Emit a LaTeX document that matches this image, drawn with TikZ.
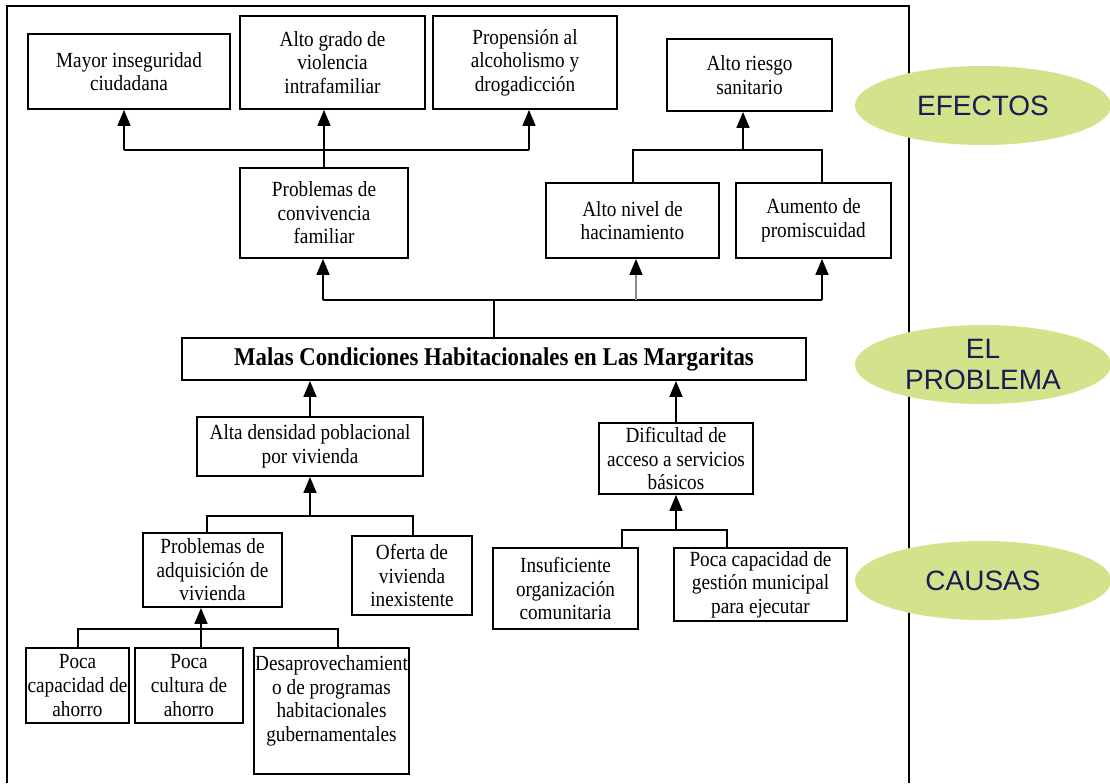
\documentclass[tikz,border=0pt]{standalone}
\usepackage{fontspec}
\setmainfont{Liberation Serif}[FakeStretch=0.89]
\newfontfamily\tagfont{Liberation Sans}
\usetikzlibrary{arrows.meta,shapes.geometric}
\definecolor{tagfill}{RGB}{210,227,140}
\definecolor{tagtext}{RGB}{24,30,82}

\begin{document}
\begin{tikzpicture}[x=0.5pt,y=-0.5pt,
  box/.style={draw, line width=0.9pt, align=center, inner sep=0pt,
    font=\fontsize{10.8}{11.8}\selectfont},
  link/.style={line width=0.8pt},
  arr/.style={link, -{Triangle[width=6.5pt,length=8pt,black]}},
  tag/.style={ellipse, fill=tagfill, minimum width=128pt, minimum height=39.5pt,
    inner sep=0pt, align=center, text=tagtext,
    font=\tagfont\fontsize{14}{15.5}\selectfont}
]
\useasboundingbox (0,0) rectangle (1110,783);

% page frame
\draw[line width=1pt] (7,783) -- (7,6) -- (909,6) -- (909,783);

% effects
\node[box, minimum width=101pt, minimum height=37.5pt] (mi) at (129,71.5) {Mayor inseguridad\\ciudadana};
\node[box, minimum width=92.5pt, minimum height=46.5pt] (ag) at (332.5,62.5) {Alto grado de\\violencia\\intrafamiliar};
\node[box, minimum width=92pt, minimum height=46.5pt] (pa) at (525,62.5) {Propensión al\\alcoholismo y\\drogadicción};
\node[box, minimum width=82.5pt, minimum height=36pt] (ar) at (749.5,75) {Alto riesgo\\sanitario};
\node[box, minimum width=84pt, minimum height=45pt] (pc) at (324,213) {Problemas de\\convivencia\\familiar};
\node[box, minimum width=86.5pt, minimum height=37.5pt] (an) at (632.5,220.5) {Alto nivel de\\hacinamiento};
\node[box, minimum width=77.5pt, minimum height=37.5pt] (ap) at (813.5,220.5) {Aumento de\\promiscuidad};

% central problem
\node[box, minimum width=312pt, minimum height=21pt,
  font=\bfseries\fontsize{12.8}{14}\selectfont] (mc) at (494,359)
  {Malas Condiciones Habitacionales en Las Margaritas};

% causes
\node[box, minimum width=113pt, minimum height=29.5pt] (ad) at (310,446.5) {Alta densidad poblacional\\por vivienda};
\node[box, minimum width=77pt, minimum height=35.5pt] (da) at (676,458.5) {Dificultad de\\acceso a servicios\\básicos};
\node[box, minimum width=69.5pt, minimum height=37pt] (pv) at (212.5,570) {Problemas de\\adquisición de\\vivienda};
\node[box, minimum width=60pt, minimum height=39.5pt] (ov) at (412,575.5) {Oferta de\\vivienda\\inexistente};
\node[box, minimum width=51.5pt, minimum height=37.5pt] (pca) at (77.5,685.5) {Poca\\capacidad de\\ahorro};
\node[box, minimum width=54pt, minimum height=37.5pt] (pcu) at (189,685.5) {Poca\\cultura de\\ahorro};
\node[box, minimum width=77.5pt, minimum height=63pt] (dp) at (331.5,711) {Desaprovechamient\\o de programas\\habitacionales\\gubernamentales\\[-3pt]\strut};
\node[box, minimum width=72.5pt, minimum height=40.5pt] (io) at (565.5,588.5) {Insuficiente\\organización\\comunitaria};
\node[box, minimum width=86.5pt, minimum height=36.5pt] (pg) at (760.5,584.5) {Poca capacidad de\\gestión municipal\\para ejecutar};

% side labels
\node[tag] (tE) at (983,105.5) {EFECTOS};
\node[tag] (tP) at (983,364.5) {EL\\PROBLEMA};
\node[tag] (tC) at (983,580.5) {CAUSAS};

% effect connectors
\coordinate (eL) at (124,150);
\coordinate (eR) at (529,150);
\draw[arr] (pc.north) -- (pc.north |- ag.south);
\draw[link] (eL) -- (eR);
\draw[arr] (eL) -- (eL |- mi.south);
\draw[arr] (eR) -- (eR |- pa.south);

\coordinate (hL) at (633,150);
\coordinate (hR) at (822,150);
\coordinate (hM) at (743,150);
\draw[link] (hL |- an.north) -- (hL) -- (hR) -- (hR |- ap.north);
\draw[arr] (hM) -- (hM |- ar.south);

% problem to effects
\coordinate (pm) at (494,300);
\coordinate (pL) at (323,300);
\coordinate (pR) at (822,300);
\coordinate (pA) at (636,300);
\draw[link] (mc.north) -- (pm);
\draw[link] (pL) -- (pR);
\draw[arr] (pL) -- (pL |- pc.south);
\draw[arr, draw=black!45] (pA) -- (pA |- an.south);
\draw[arr] (pR) -- (pR |- ap.south);

% causes to problem
\draw[arr] (ad.north) -- (ad.north |- mc.south);
\draw[arr] (da.north) -- (da.north |- mc.south);

\coordinate (aL) at (207,516);
\coordinate (aR) at (413,516);
\coordinate (aM) at (310,516);
\draw[link] (aL |- pv.north) -- (aL) -- (aR) -- (aR |- ov.north);
\draw[arr] (aM) -- (aM |- ad.south);

\coordinate (bL) at (78,629);
\coordinate (bR) at (338,629);
\coordinate (bM) at (201,629);
\draw[link] (bL |- pca.north) -- (bL) -- (bR) -- (bR |- dp.north);
\draw[arr] (bM |- pcu.north) -- (bM |- pv.south);

\coordinate (dL) at (622,530);
\coordinate (dR) at (727,530);
\coordinate (dM) at (676,530);
\draw[link] (dL |- io.north) -- (dL) -- (dR) -- (dR |- pg.north);
\draw[arr] (dM) -- (dM |- da.south);
\end{tikzpicture}
\end{document}
